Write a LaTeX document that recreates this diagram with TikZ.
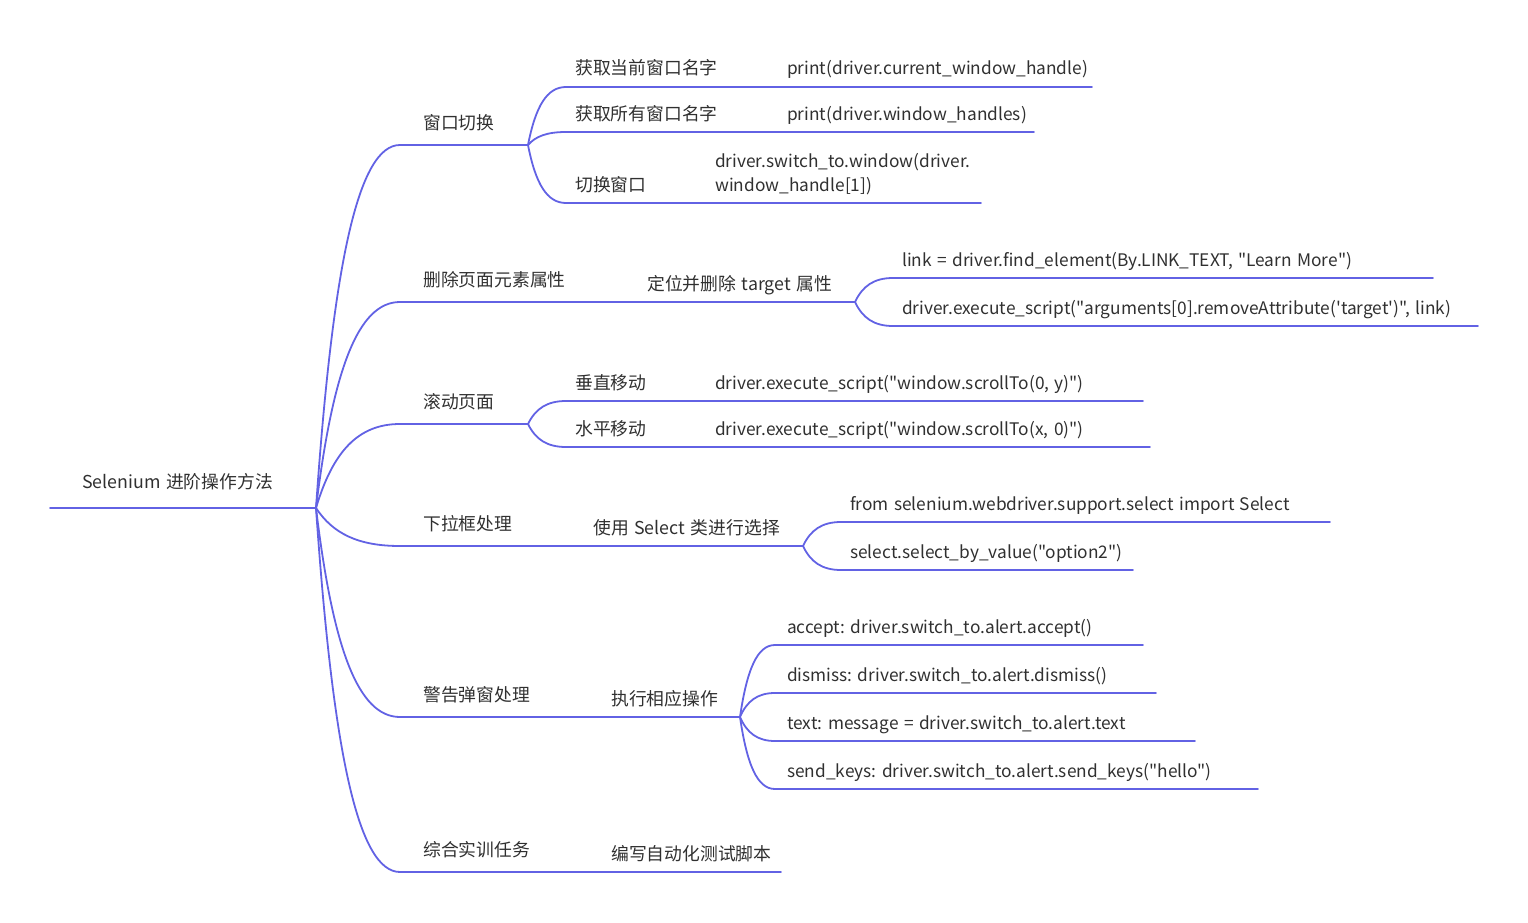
\documentclass[tikz,border=0pt]{standalone}
\usepackage{fontspec}
\usetikzlibrary{calc}
\newfontfamily\mmfont{Noto Sans CJK SC}[WordSpace=1.4]
\frenchspacing
\definecolor{branch}{RGB}{98,98,228}
\definecolor{txt}{RGB}{48,48,48}
\tikzset{
  lbl/.style={anchor=base west, inner sep=0pt, text=txt, font=\mmfont\fontsize{17.8}{24}\selectfont},
  codelbl/.style={lbl, font=\mmfont\fontsize{17.3}{24}\selectfont},
  edge/.style={draw=branch, line width=1.8pt, line cap=round},
}
% curved connector from #1 to #2, then straight on to #3
\newcommand\mmcurve[3]{%
  \draw[edge] let \p1=(#1), \p2=(#2) in (#1)
    .. controls ({\x1+0.2*(\x2-\x1)},{\y1+0.67*(\y2-\y1)}) and ({0.5*(\x1+\x2)},\y2) .. (#2) -- (#3);}
\begin{document}
\begin{tikzpicture}[x=1pt,y=-1pt]
\useasboundingbox (0,0) rectangle (1528,923);

% root
\coordinate (r0) at (50,508);
\coordinate (r) at (316,508);
\node[lbl] (root) at (82,488) {Selenium 进阶操作方法};
\draw[edge] (r0) -- (r);

% ---------- branch 1
\coordinate (b1s) at (400,145);
\coordinate (b1) at (528,145);
\node[lbl] (t1) at (423,129) {窗口切换};
\mmcurve{r}{b1s}{b1}

\coordinate (c11s) at (566,87);  \coordinate (c11e) at (1092,87);
\coordinate (c12s) at (566,132); \coordinate (c12e) at (1034,132);
\coordinate (c13s) at (566,203); \coordinate (c13e) at (981,203);
\mmcurve{b1}{c11s}{c11e}
\mmcurve{b1}{c12s}{c12e}
\mmcurve{b1}{c13s}{c13e}
\node[lbl] (t11) at (575,75) {获取当前窗口名字};
\node[codelbl] (t11c) at (787,75) {print(driver.current\_window\_handle)};
\node[lbl] (t12) at (575,121) {获取所有窗口名字};
\node[codelbl] (t12c) at (787,121) {print(driver.window\_handles)};
\node[lbl] (t13) at (575,191) {切换窗口};
\node[codelbl] (t13a) at (715,167) {driver.switch\_to.window(driver.};
\node[codelbl] (t13b) at (715,191) {window\_handle[1])};

% ---------- branch 2
\coordinate (b2s) at (400,302);
\coordinate (b2m) at (625,302);
\coordinate (b2) at (855,302);
\node[lbl] (t2) at (423,286) {删除页面元素属性};
\mmcurve{r}{b2s}{b2m}
\node[lbl] (t2a) at (647,290) {定位并删除 target 属性};
\draw[edge] (b2m) -- (b2);
\coordinate (d21s) at (893,278); \coordinate (d21e) at (1433,278);
\coordinate (d22s) at (893,326); \coordinate (d22e) at (1478,326);
\mmcurve{b2}{d21s}{d21e}
\mmcurve{b2}{d22s}{d22e}
\node[codelbl] (t21) at (902,266) {link = driver.find\_element(By.LINK\_TEXT, "Learn More")};
\node[codelbl] (t22) at (902,314) {driver.execute\_script("arguments[0].removeAttribute('target')", link)};

% ---------- branch 3
\coordinate (b3s) at (400,424);
\coordinate (b3) at (528,424);
\node[lbl] (t3) at (423,408) {滚动页面};
\mmcurve{r}{b3s}{b3}
\coordinate (c31s) at (566,401); \coordinate (c31e) at (1143,401);
\coordinate (c32s) at (566,447); \coordinate (c32e) at (1150,447);
\mmcurve{b3}{c31s}{c31e}
\mmcurve{b3}{c32s}{c32e}
\node[lbl] (t31) at (575,389) {垂直移动};
\node[codelbl] (t31c) at (715,389) {driver.execute\_script("window.scrollTo(0, y)")};
\node[lbl] (t32) at (575,435) {水平移动};
\node[codelbl] (t32c) at (715,435) {driver.execute\_script("window.scrollTo(x, 0)")};

% ---------- branch 4
\coordinate (b4s) at (400,546);
\coordinate (b4m) at (575,546);
\coordinate (b4) at (803,546);
\node[lbl] (t4) at (423,530) {下拉框处理};
\mmcurve{r}{b4s}{b4m}
\node[lbl] (t4a) at (593,534) {使用 Select 类进行选择};
\draw[edge] (b4m) -- (b4);
\coordinate (d41s) at (841,522); \coordinate (d41e) at (1330,522);
\coordinate (d42s) at (841,570); \coordinate (d42e) at (1133,570);
\mmcurve{b4}{d41s}{d41e}
\mmcurve{b4}{d42s}{d42e}
\node[codelbl] (t41) at (850,510) {from selenium.webdriver.support.select import Select};
\node[codelbl] (t42) at (850,558) {select.select\_by\_value("option2")};

% ---------- branch 5
\coordinate (b5s) at (400,717);
\coordinate (b5m) at (590,717);
\coordinate (b5) at (740,717);
\node[lbl] (t5) at (423,701) {警告弹窗处理};
\mmcurve{r}{b5s}{b5m}
\node[lbl] (t5a) at (611,705) {执行相应操作};
\draw[edge] (b5m) -- (b5);
\coordinate (d51s) at (775,645); \coordinate (d51e) at (1143,645);
\coordinate (d52s) at (775,693); \coordinate (d52e) at (1156,693);
\coordinate (d53s) at (775,741); \coordinate (d53e) at (1195,741);
\coordinate (d54s) at (775,789); \coordinate (d54e) at (1258,789);
\mmcurve{b5}{d51s}{d51e}
\mmcurve{b5}{d52s}{d52e}
\mmcurve{b5}{d53s}{d53e}
\mmcurve{b5}{d54s}{d54e}
\node[codelbl] (t51) at (787,633) {accept: driver.switch\_to.alert.accept()};
\node[codelbl] (t52) at (787,681) {dismiss: driver.switch\_to.alert.dismiss()};
\node[codelbl] (t53) at (787,729) {text: message = driver.switch\_to.alert.text};
\node[codelbl] (t54) at (787,777) {send\_keys: driver.switch\_to.alert.send\_keys("hello")};

% ---------- branch 6
\coordinate (b6s) at (400,872);
\coordinate (b6m) at (590,872);
\coordinate (b6) at (781,872);
\node[lbl] (t6) at (423,856) {综合实训任务};
\mmcurve{r}{b6s}{b6m}
\node[lbl] (t6a) at (611,860) {编写自动化测试脚本};
\draw[edge] (b6m) -- (b6);
\end{tikzpicture}
\end{document}
